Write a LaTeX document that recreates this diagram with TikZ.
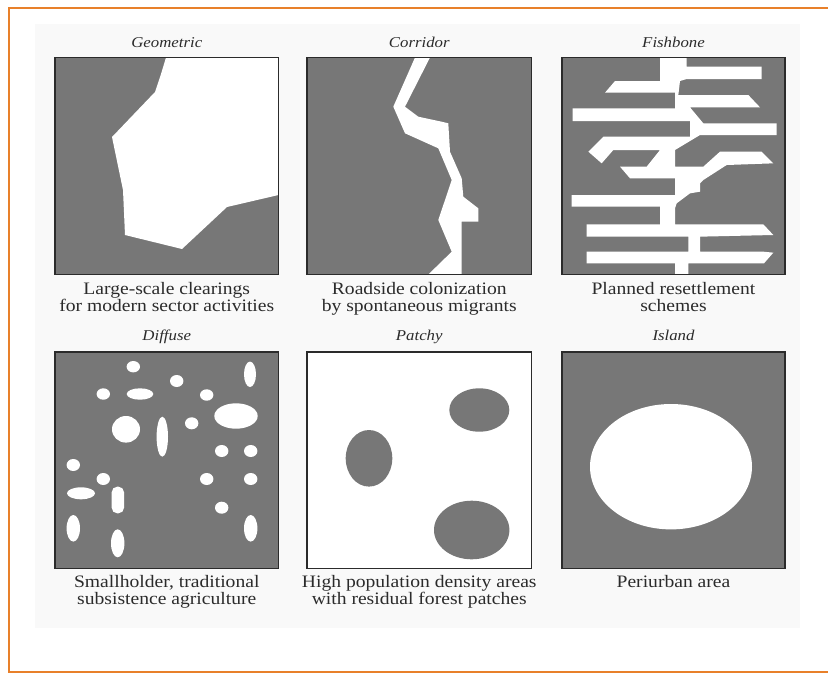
\documentclass[tikz,border=0pt]{standalone}
\usepackage{fontspec}
\setmainfont{Liberation Serif}
\newfontfamily\widefont[FakeStretch=1.12]{Liberation Serif}
\definecolor{forest}{HTML}{777777}
\definecolor{frameorange}{HTML}{E8802A}
\definecolor{ink}{HTML}{2B2B2B}
\definecolor{bgpanel}{HTML}{F9F9F9}
\begin{document}
\begin{tikzpicture}[x=1pt,y=-1pt,
  panelframe/.style={draw=ink, line width=1.2pt},
  forestfill/.style={fill=forest},
  clearfill/.style={fill=white},
  ptitle/.style={font=\widefont\fontsize{15}{17}\selectfont\itshape, text=ink, inner sep=0pt, anchor=base},
  pcap/.style={font=\widefont\fontsize{17.5}{19}\selectfont, text=ink, inner sep=0pt, anchor=base}]
\useasboundingbox (0,0) rectangle (828,673);
\fill[white] (0,0) rectangle (828,673);
\fill[bgpanel] (35,24) rectangle (800,628);
\draw[frameorange, line width=1.8pt] (840,8) -- (9,8) -- (9,672) -- (840,672);

% ---------- Panel 1: Geometric ----------
\fill[forestfill] (55,57.5) rectangle (278.5,274.5);
\fill[clearfill] (166,57.5) -- (161,74) -- (155,92) -- (112,137) -- (123,190) -- (125,235)
  -- (182,249) -- (227,207) -- (278.5,195) -- (278.5,57.5) -- cycle;
\draw[panelframe] (55,57.5) rectangle (278.5,274.5);

% ---------- Panel 2: Corridor ----------
\fill[forestfill] (307,57.5) rectangle (531.5,274.5);
\fill[clearfill] (415,57.5) -- (393.3,106.7) -- (405,133.3) -- (438.3,148.3) -- (451.7,180)
  -- (438.3,220) -- (451.7,251.7) -- (428.3,274.5) -- (461.7,274.5) -- (461.7,221.7)
  -- (478.3,221.7) -- (478.3,208.3) -- (463.3,196.7) -- (461.7,178.3) -- (450,151.7)
  -- (448.3,123.3) -- (441.7,121.7) -- (418.3,116.7) -- (405,106.7) -- (430,57.5) -- cycle;
\draw[panelframe] (307,57.5) rectangle (531.5,274.5);

% ---------- Panel 3: Fishbone ----------
\fill[forestfill] (562,57.5) rectangle (785,274.5);
\begin{scope}
\clip (562,57.5) rectangle (785,274.5);
\begin{scope}[shift={(560,55)}, scale=1/3]
\fill[clearfill] (300,5) -- (380,5) -- (380,35) -- (605,35) -- (605,72) -- (380,72)
  -- (360,78) -- (355,120) -- (565,120) -- (600,157) -- (390,157) -- (430,205)
  -- (650,205) -- (650,240) -- (420,240) -- (345,285) -- (345,335) -- (430,335)
  -- (480,290) -- (605,290) -- (640,325) -- (500,330) -- (430,375) -- (420,385)
  -- (420,410) -- (390,415) -- (350,445) -- (345,460) -- (345,508) -- (610,508)
  -- (640,540) -- (420,545) -- (420,590) -- (610,590) -- (640,593) -- (612,625)
  -- (385,625) -- (385,670) -- (345,670) -- (345,625) -- (80,625) -- (80,590)
  -- (385,590) -- (385,545) -- (80,545) -- (80,508) -- (300,508) -- (300,455)
  -- (35,455) -- (35,420) -- (345,420) -- (345,370) -- (210,370) -- (180,335)
  -- (260,335) -- (300,285) -- (160,285) -- (125,325) -- (85,290) -- (130,245)
  -- (390,245) -- (390,198) -- (38,198) -- (38,160) -- (345,160) -- (345,113)
  -- (135,113) -- (165,78) -- (300,78) -- cycle;
\end{scope}
\end{scope}
\draw[panelframe] (562,57.5) rectangle (785,274.5);

% ---------- Panel 4: Diffuse ----------
\fill[forestfill] (55,352) rectangle (278.5,568.5);
\begin{scope}[clearfill]
\fill (133.3,366.7) ellipse [x radius=6.7, y radius=5.7];
\fill (176.7,381) ellipse [x radius=6.7, y radius=6];
\fill (250,374.3) ellipse [x radius=6, y radius=12.7];
\fill (103.3,394) ellipse [x radius=6.7, y radius=5.7];
\fill (140,394) ellipse [x radius=13.3, y radius=5.7];
\fill (206.7,395) ellipse [x radius=6.7, y radius=5.7];
\fill (236,416) ellipse [x radius=21.7, y radius=12.7];
\fill (126,429.3) ellipse [x radius=14, y radius=13.3];
\fill (162.3,436.7) ellipse [x radius=5.7, y radius=20];
\fill (191.7,423.3) ellipse [x radius=6.7, y radius=6];
\fill (221.7,451) ellipse [x radius=6.7, y radius=6];
\fill (250.7,451) ellipse [x radius=6.7, y radius=6];
\fill (73.3,465) ellipse [x radius=6.7, y radius=6];
\fill (103.3,479) ellipse [x radius=6.7, y radius=6];
\fill (206.7,479) ellipse [x radius=6.7, y radius=6];
\fill (250.7,479) ellipse [x radius=6.7, y radius=6];
\fill (81,493.3) ellipse [x radius=14, y radius=6];
\fill[rounded corners=5.5pt] (111.7,486.7) rectangle (124,513.3);
\fill (221.7,507.7) ellipse [x radius=6.7, y radius=6];
\fill (73.3,528.3) ellipse [x radius=6.7, y radius=13.3];
\fill (117.7,543.3) ellipse [x radius=6.7, y radius=14];
\fill (250.7,528.3) ellipse [x radius=6.7, y radius=13.3];
\end{scope}
\draw[panelframe] (55,352) rectangle (278.5,568.5);

% ---------- Panel 5: Patchy ----------
\fill[white] (307,352) rectangle (531.5,568.5);
\fill[forestfill] (479.3,410) ellipse [x radius=30, y radius=21.7];
\fill[forestfill] (369,458.3) ellipse [x radius=23.3, y radius=28.3];
\fill[forestfill] (471.7,530) ellipse [x radius=37.7, y radius=29.3];
\draw[panelframe] (307,352) rectangle (531.5,568.5);

% ---------- Panel 6: Island ----------
\fill[forestfill] (562,352) rectangle (785,568.5);
\fill[clearfill] (671,466.7) ellipse [x radius=81, y radius=62.7];
\draw[panelframe] (562,352) rectangle (785,568.5);

% ---------- Titles ----------
\node[ptitle] (t1) at (166.75,47) {Geometric};
\node[ptitle] (t2) at (419.25,47) {Corridor};
\node[ptitle] (t3) at (673.5,47) {Fishbone};
\node[ptitle] (t4) at (166.75,340.5) {Diffuse};
\node[ptitle] (t5) at (419.25,340.5) {Patchy};
\node[ptitle] (t6) at (673.5,340.5) {Island};

% ---------- Captions ----------
\node[pcap] (c1a) at (166.75,294) {Large-scale clearings};
\node[pcap] (c1b) at (166.75,311) {for modern sector activities};
\node[pcap] (c2a) at (419.25,294) {Roadside colonization};
\node[pcap] (c2b) at (419.25,311) {by spontaneous migrants};
\node[pcap] (c3a) at (673.5,294) {Planned resettlement};
\node[pcap] (c3b) at (673.5,311) {schemes};
\node[pcap] (c4a) at (166.75,587) {Smallholder, traditional};
\node[pcap] (c4b) at (166.75,604) {subsistence agriculture};
\node[pcap] (c5a) at (419.25,587) {High population density areas};
\node[pcap] (c5b) at (419.25,604) {with residual forest patches};
\node[pcap] (c6a) at (673.5,587) {Periurban area};
\end{tikzpicture}
\end{document}
